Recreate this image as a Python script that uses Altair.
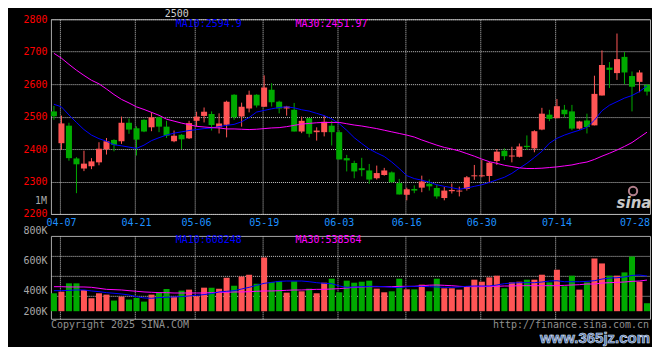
import altair as alt
import pandas as pd

# ---------------- data ----------------
dates = ["04-03", "04-07", "04-08", "04-09", "04-10", "04-11", "04-14", "04-15", "04-16", "04-17",
         "04-18", "04-21", "04-22", "04-23", "04-24", "04-25", "04-28", "04-29", "04-30", "05-06",
         "05-07", "05-08", "05-09", "05-12", "05-13", "05-14", "05-15", "05-16", "05-19", "05-20",
         "05-21", "05-22", "05-23", "05-26", "05-27", "05-28", "05-29", "05-30", "06-03", "06-04",
         "06-05", "06-06", "06-09", "06-10", "06-11", "06-12", "06-13", "06-16", "06-17", "06-18",
         "06-19", "06-20", "06-23", "06-24", "06-25", "06-26", "06-27", "06-30", "07-01", "07-02",
         "07-03", "07-04", "07-07", "07-08", "07-09", "07-10", "07-11", "07-14", "07-15", "07-16",
         "07-17", "07-18", "07-21", "07-22", "07-23", "07-24", "07-25", "07-28", "07-29", "07-30"]

opens = [2516, 2418, 2472, 2371, 2340, 2347, 2359, 2399, 2428, 2424,
         2481, 2464, 2490, 2467, 2498, 2469, 2424, 2444, 2433, 2487,
         2502, 2508, 2467, 2475, 2567, 2500, 2525, 2567, 2530, 2583,
         2546, 2525, 2521, 2454, 2495, 2452, 2452, 2472, 2452, 2372,
         2357, 2341, 2334, 2310, 2320, 2328, 2295, 2259, 2277, 2281,
         2293, 2280, 2249, 2270, 2269, 2277, 2316, 2316, 2317, 2363,
         2395, 2377, 2376, 2410, 2402, 2460, 2506, 2495, 2521, 2516,
         2463, 2488, 2473, 2565, 2651, 2634, 2684, 2625, 2607, 2598]
highs = [2533, 2503, 2481, 2375, 2395, 2372, 2421, 2434, 2430, 2500,
         2494, 2470, 2492, 2513, 2500, 2487, 2457, 2446, 2487, 2515,
         2528, 2516, 2510, 2549, 2569, 2543, 2580, 2569, 2627, 2603,
         2549, 2533, 2542, 2500, 2497, 2467, 2503, 2487, 2458, 2382,
         2364, 2373, 2354, 2349, 2342, 2331, 2308, 2281, 2288, 2318,
         2306, 2290, 2283, 2294, 2284, 2317, 2351, 2366, 2360, 2400,
         2402, 2407, 2417, 2442, 2458, 2527, 2521, 2554, 2536, 2536,
         2487, 2509, 2626, 2704, 2668, 2756, 2699, 2639, 2643, 2600]
lows = [2490, 2398, 2364, 2264, 2332, 2338, 2350, 2383, 2393, 2416,
        2447, 2380, 2452, 2455, 2452, 2434, 2421, 2400, 2431, 2469,
        2482, 2457, 2448, 2436, 2490, 2469, 2513, 2528, 2530, 2531,
        2510, 2503, 2454, 2449, 2436, 2426, 2439, 2411, 2368, 2331,
        2310, 2316, 2293, 2306, 2318, 2296, 2260, 2242, 2264, 2267,
        2272, 2247, 2242, 2263, 2254, 2272, 2305, 2313, 2295, 2351,
        2366, 2359, 2374, 2397, 2390, 2458, 2486, 2495, 2498, 2458,
        2460, 2448, 2473, 2565, 2588, 2613, 2600, 2516, 2575, 2565]
closes = [2501, 2479, 2372, 2353, 2355, 2362, 2401, 2424, 2413, 2481,
          2460, 2429, 2454, 2498, 2469, 2441, 2441, 2430, 2480, 2500,
          2515, 2474, 2479, 2546, 2498, 2530, 2567, 2534, 2590, 2544,
          2525, 2531, 2454, 2487, 2447, 2457, 2484, 2452, 2368, 2365,
          2331, 2335, 2306, 2326, 2334, 2298, 2260, 2276, 2272, 2300,
          2285, 2254, 2272, 2274, 2272, 2313, 2319, 2319, 2358, 2392,
          2378, 2380, 2408, 2406, 2455, 2509, 2493, 2532, 2507, 2463,
          2485, 2468, 2570, 2659, 2644, 2677, 2636, 2592, 2636, 2577]

ma10 = [2538, 2530, 2505, 2482, 2460, 2443, 2432, 2424, 2413, 2410,
        2406, 2402, 2412, 2426, 2435, 2443, 2449, 2453, 2457, 2460,
        2463, 2465, 2469, 2473, 2476, 2484, 2497, 2514, 2519, 2524,
        2528, 2530, 2527, 2521, 2517, 2510, 2503, 2493, 2478, 2458,
        2435, 2417, 2400, 2388, 2377, 2360, 2340, 2318, 2309, 2304,
        2298, 2290, 2285, 2281, 2276, 2280, 2285, 2290, 2297, 2305,
        2313, 2325, 2341, 2356, 2374, 2393, 2418, 2433, 2443, 2451,
        2458, 2467, 2489, 2518, 2535, 2546, 2557, 2565, 2577, 2594.9]
ma30 = [2695, 2680, 2661, 2643, 2627, 2612, 2601, 2585, 2568, 2553,
        2542, 2530, 2522, 2513, 2504, 2492, 2486, 2480, 2475, 2470,
        2468, 2466, 2465, 2462, 2462, 2461, 2460, 2461, 2463, 2465,
        2466, 2469, 2473, 2477, 2479, 2481, 2482, 2482, 2482, 2478,
        2474, 2471, 2467, 2463, 2458, 2453, 2448, 2443, 2437, 2428,
        2420, 2412, 2405, 2400, 2394, 2386, 2378, 2369, 2361, 2356,
        2350, 2346, 2342, 2340, 2340, 2341, 2343, 2345, 2348, 2351,
        2356, 2360, 2368, 2378, 2387, 2397, 2408, 2420, 2436, 2451.97]

volumes = [310000, 338000, 482000, 482000, 367000, 224000, 310000, 287000, 184000, 252000,
           201000, 229000, 166000, 287000, 327000, 384000, 252000, 356000, 373000, 258000,
           407000, 407000, 390000, 579000, 441000, 602000, 631000, 476000, 929000, 505000,
           522000, 321000, 516000, 344000, 390000, 310000, 493000, 562000, 327000, 528000,
           493000, 510000, 528000, 390000, 327000, 344000, 562000, 378000, 378000, 459000,
           344000, 562000, 396000, 396000, 373000, 430000, 545000, 510000, 585000, 614000,
           396000, 499000, 510000, 545000, 545000, 631000, 499000, 717000, 430000, 614000,
           373000, 499000, 912000, 826000, 614000, 614000, 671000, 946000, 510000, 138000]
vol_ma10 = [355000, 355000, 361000, 367000, 367000, 350000, 338000, 321000, 310000, 298000,
            281000, 252000, 229000, 224000, 235000, 241000, 247000, 252000, 264000, 275000,
            287000, 304000, 333000, 344000, 355000, 384000, 413000, 447000, 482000, 499000,
            516000, 522000, 522000, 522000, 510000, 493000, 482000, 476000, 436000, 413000,
            419000, 424000, 430000, 430000, 424000, 413000, 407000, 424000, 430000, 430000,
            424000, 419000, 413000, 413000, 419000, 430000, 436000, 436000, 436000, 453000,
            476000, 487000, 493000, 493000, 493000, 505000, 522000, 527000, 510000, 510000,
            510000, 516000, 527000, 556000, 573000, 579000, 591000, 619000, 625000, 608248]
vol_ma30 = [424000, 424000, 419000, 419000, 419000, 413000, 396000, 378000, 373000, 367000,
            355000, 344000, 333000, 327000, 321000, 321000, 315000, 315000, 315000, 315000,
            315000, 321000, 327000, 327000, 333000, 333000, 338000, 344000, 350000, 350000,
            355000, 361000, 367000, 367000, 373000, 378000, 378000, 384000, 390000, 401000,
            413000, 419000, 424000, 424000, 424000, 424000, 430000, 430000, 430000, 441000,
            450000, 453000, 447000, 441000, 430000, 424000, 424000, 424000, 430000, 430000,
            436000, 436000, 441000, 441000, 441000, 441000, 441000, 441000, 447000, 453000,
            459000, 470000, 470000, 487000, 493000, 499000, 505000, 516000, 522000, 538564]

tick_dates = ["04-07", "04-21", "05-06", "05-19", "06-03", "06-16", "06-30", "07-14", "07-28"]
price_ticks = [2200, 2300, 2400, 2500, 2600, 2700, 2800]
price_domain = [2200, 2800]
vol_tick_values = [0, 270000, 614000, 958000, 1302000]
vol_tick_labels = ["200K", "400K", "", "600K", "800K"]
vol_domain = [-131000, 1302000]

ma10_text = "MA10:2594.9"
ma30_text = "MA30:2451.97"
vol_ma10_text = "MA10:608248"
vol_ma30_text = "MA30:538564"
top_text = "2500"
vol_extra_label = "1M"
copyright_text = "Copyright 2025 SINA.COM"
url_text = "http://finance.sina.com.cn"
logo_text = "sina"
watermark_text = "www.365jz.com"

# ---------------- styling ----------------
RED = "#ff5555"
GREEN = "#00aa00"
BLUE = "#0000ff"
MAGENTA = "#ff00ff"
GRID = "#c8c8c8"
BORDER = "#a8a8a8"
MONO = "DejaVu Sans Mono"

df = pd.DataFrame({
    "date": dates, "open": opens, "high": highs, "low": lows, "close": closes,
    "ma10": ma10, "ma30": ma30, "volume": volumes,
    "vma10": vol_ma10, "vma30": vol_ma30,
})
df["dir"] = ["up" if c >= o else "down" for o, c in zip(opens, closes)]

color = alt.Color("dir:N", scale=alt.Scale(domain=["up", "down"], range=[RED, GREEN]), legend=None)
hide_last = {"condition": {"test": "datum.value == '07-28'", "value": 0}, "value": 1}


def xscale():
    return alt.Scale(domain=dates, paddingInner=0.2, paddingOuter=0)


def x_price():
    return alt.X("date:N", scale=xscale(), sort=None, title=None,
                 axis=alt.Axis(values=tick_dates, bandPosition=0.3, labelAngle=0,
                               labelColor="#1e90ff", labelFont=MONO, labelFontSize=10,
                               labelPadding=4, labelBaseline="top", ticks=False, domain=False,
                               grid=True, gridColor=GRID, gridDash=[1, 1],
                               gridOpacity=hide_last, labelOverlap=False,
                               labelOffset={"condition": {"test": "datum.value == '07-28'", "value": 3},
                                            "value": 0}))


def x_vol():
    return alt.X("date:N", scale=xscale(), sort=None, title=None,
                 axis=alt.Axis(values=tick_dates, bandPosition=0.3, labels=False, ticks=False,
                               domain=False, grid=True, gridColor=GRID, gridDash=[1, 1],
                               gridOpacity=hide_last))


def y_price(field):
    return alt.Y(field, scale=alt.Scale(domain=price_domain, nice=False, zero=False), title=None,
                 axis=alt.Axis(values=price_ticks, format="d", labelColor="#ff0000", labelFont=MONO,
                               labelFontSize=10, labelPadding=4, ticks=False, domain=False, grid=True,
                               gridColor=GRID, gridDash=[1, 1], title=None, labelOverlap=False))


label_expr = " : ".join(
    f"datum.value == {v} ? '{t}'" for v, t in zip(vol_tick_values, vol_tick_labels)) + " : ''"


def y_vol(field):
    return alt.Y(field, scale=alt.Scale(domain=vol_domain, nice=False, zero=False), title=None,
                 axis=alt.Axis(
                     values=vol_tick_values, labelExpr=label_expr, labelColor="#a8a8a8", labelFont=MONO,
                     labelFontSize=10, labelPadding=4, ticks=False, domain=False, grid=True,
                     gridColor=GRID, gridDash=[1, 1], title=None, labelOverlap=False,
                     labelBaseline={"condition": [
                         {"test": f"datum.value == {vol_tick_values[3]}", "value": "top"},
                         {"test": f"datum.value == {vol_tick_values[0]}", "value": "middle"}],
                         "value": "bottom"},
                     gridOpacity={"condition": {
                         "test": f"datum.value == {vol_tick_values[0]} || datum.value == {vol_tick_values[4]}",
                         "value": 0}, "value": 1}))


base = alt.Chart(df)
wicks = base.mark_rule(strokeWidth=1).encode(x=x_price(), y=y_price("low:Q"), y2="high:Q", color=color)
bodies = base.mark_bar().encode(x=x_price(), y=y_price("open:Q"), y2="close:Q", color=color)
line10 = base.mark_line(color=BLUE, strokeWidth=1).encode(x=x_price(), y=y_price("ma10:Q"))
line30 = base.mark_line(color=MAGENTA, strokeWidth=1).encode(x=x_price(), y=y_price("ma30:Q"))


def label(text, **kw):
    return alt.Chart(pd.DataFrame({"t": [text]})).mark_text(**kw).encode(text="t:N")


price_texts = [
    label(ma10_text, x=125, y=5, align="left", baseline="middle", font=MONO, fontSize=10, color=BLUE),
    label(ma30_text, x=245, y=5, align="left", baseline="middle", font=MONO, fontSize=10, color=MAGENTA),
    label(top_text, x=126, y=-5, align="center", baseline="middle", font=MONO, fontSize=10, color="#d0d0d0"),
    label(vol_extra_label, x=-4, y=182, align="right", baseline="middle", font=MONO, fontSize=10, color="#a8a8a8"),
    label(logo_text, x=584, y=184, align="center", baseline="middle", font="DejaVu Sans",
          fontSize=15, fontWeight="bold", fontStyle="italic", color="#c8c8c8"),
    alt.Chart(pd.DataFrame({"t": [logo_text]})).mark_point(
        shape="circle", size=70, filled=False, color="#ffb6c8", strokeWidth=2, x=583, y=172),
]

price_chart = alt.layer(wicks, bodies, line10, line30, *price_texts).properties(width=600, height=195)

vbars = base.mark_bar().encode(x=x_vol(), y=y_vol("volume:Q"), color=color)
vline10 = base.mark_line(color=BLUE, strokeWidth=1).encode(x=x_vol(), y=y_vol("vma10:Q"))
vline30 = base.mark_line(color=MAGENTA, strokeWidth=1).encode(x=x_vol(), y=y_vol("vma30:Q"))

vol_texts = [
    label(vol_ma10_text, x=125, y=4, align="left", baseline="middle", font=MONO, fontSize=10, color=BLUE),
    label(vol_ma30_text, x=245, y=4, align="left", baseline="middle", font=MONO, fontSize=10, color=MAGENTA),
    label(copyright_text, x=0, y=89, align="left", baseline="middle", font=MONO, fontSize=10, color="#909090"),
    label(url_text, x=599, y=89, align="right", baseline="middle", font=MONO, fontSize=10, color="#909090"),
    label(watermark_text, x=600, y=102, align="right", baseline="middle", font="Liberation Sans",
          fontSize=15, fontWeight="bold", color="#4a6aa8", stroke="#dfe6f5", strokeWidth=0.6),
]

vol_chart = alt.layer(vbars, vline30, vline10, *vol_texts).properties(width=600, height=83)

chart = alt.vconcat(price_chart, vol_chart, spacing=22, bounds="flush").properties(
    background="black",
    padding={"left": 14, "top": 0, "right": 0, "bottom": 0},
).configure_view(stroke=BORDER, strokeWidth=1)

chart.save("out.html", embed_options={"renderer": "svg", "actions": False})
